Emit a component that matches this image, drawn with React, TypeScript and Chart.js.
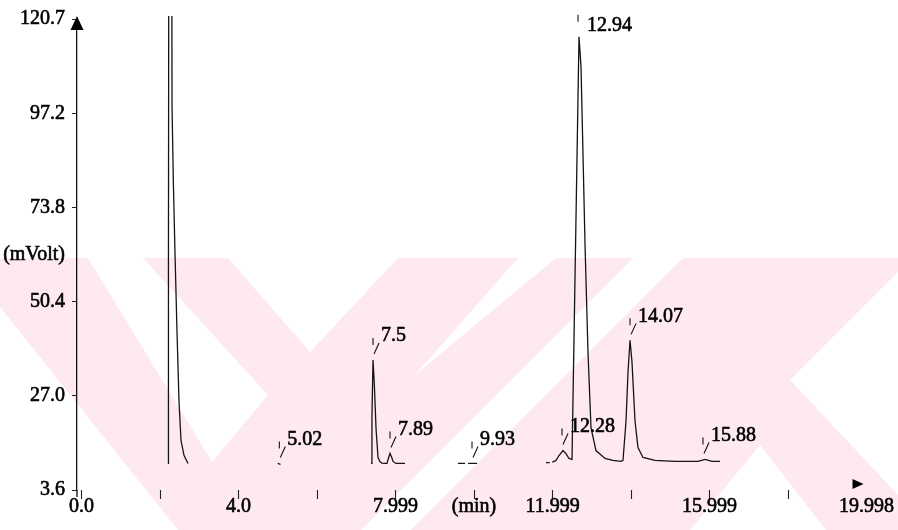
import React, { useEffect, useRef } from "react";
import { Chart, registerables } from "chart.js";

Chart.register(...registerables);

// Retention time (min) of each trace point; a null value breaks the trace
const traceTimes: number[] = [
  2.204, 2.215, 2.235, 2.26, 2.285, 2.306, 2.34, 2.382, 2.43, 2.484, 2.535, 2.611, 2.713,
  2.8,
  5.0, 5.07,
  5.2,
  7.376, 7.4, 7.427, 7.46, 7.503, 7.554, 7.605, 7.656, 7.72, 7.783, 7.82, 7.86, 7.9, 7.936, 8.013, 8.242,
  8.4,
  9.59, 9.77,
  9.8,
  9.85, 10.08,
  10.3,
  11.834, 11.93,
  11.96,
  11.99, 12.089, 12.166, 12.268, 12.344, 12.42, 12.497, 12.675, 12.726,
  12.777, 12.828, 12.904, 12.981, 13.108, 13.338, 13.541, 13.745, 13.796, 13.873, 13.924, 13.975,
  14.025, 14.102, 14.178, 14.306, 14.611, 15.121, 15.707, 15.885, 16.064, 16.268,
];
// Detector signal (mVolt)
const traceValues: (number | null)[] = [
  10.2, 60, 250, 600, 250, 99.1, 80, 62.4, 44, 25.6, 15.9, 12.2, 10.2,
  null,
  10.2, 10.0,
  null,
  10.2, 22, 35.9, 30, 19.0, 11.7, 10.6, 10.3, 10.2, 10.2, 11.5, 12.7, 11.8, 10.7, 10.2, 10.2,
  null,
  10.2, 10.2,
  null,
  10.2, 10.2,
  null,
  10.4, 10.4,
  null,
  10.5, 10.95, 12.17, 13.4, 12.66, 11.44, 11.19, 116.29, 108.94,
  86.89, 64.84, 37.9, 19.03, 13.4, 11.44, 10.95, 10.7, 10.95, 20.75, 33.0, 40.84,
  35.45, 20.75, 14.13, 11.68, 10.95, 10.7, 10.7, 11.19, 10.7, 10.7,
];

const yTickValues = [3.6, 27.0, 50.4, 62.1, 73.8, 97.2, 120.7];
const yTickLabels = ["3.6", "27.0", "50.4", "(mVolt)", "73.8", "97.2", "120.7"];
const xTickValues = [0, 2, 4, 6, 8, 10, 12, 14, 16, 18, 20];
const xTickLabels = ["0.0", "", "4.0", "", "7.999", "(min)", "11.999", "", "15.999", "", "19.998"];

const peakLabels = ["5.02", "7.5", "7.89", "9.93", "12.28", "12.94", "14.07", "15.88"];
const peakMarkTimes = [5.04, 7.427, 7.86, 9.949, 12.242, 12.65, 13.975, 15.834];
const peakMarkValues = [10.2, 35.9, 12.7, 10.2, 13.4, 116.3, 40.8, 11.2];

const Y_MIN = 3.6;
const Y_MAX = 120.7;
const X_MIN = -0.115;
const X_MAX = 20;

const FONT = '"Liberation Serif", "Times New Roman", serif';

// Faint pink scan watermark (decoration, canvas pixels): tinted band and its white gaps
const WM_TOP = 258;
const WM_COLOR = "#fde9ee";
const wmGaps: number[][][] = [
  [[0, 307], [178, 530], [0, 530]],
  [[88, 258], [143, 258], [268, 395], [212, 462]],
  [[228, 258], [398, 258], [310, 352]],
  [[518, 258], [556, 258], [415, 375]],
  [[633, 258], [683, 258], [411, 530], [361, 530]],
  [[790, 380], [898, 272], [898, 495]],
  [[760, 445], [826, 530], [690, 530]],
];

export default function App() {
  const ref = useRef<HTMLCanvasElement>(null);

  useEffect(() => {
    const canvas = ref.current;
    if (!canvas) return;
    const points = traceTimes.map((t, i) => ({ x: t, y: traceValues[i] }));

    const watermark = {
      id: "watermark",
      beforeDraw(chart: any) {
        const { ctx, width, height } = chart;
        ctx.save();
        ctx.fillStyle = WM_COLOR;
        ctx.fillRect(0, WM_TOP, width, height - WM_TOP);
        ctx.fillStyle = "#ffffff";
        wmGaps.forEach((poly) => {
          ctx.beginPath();
          poly.forEach(([px, py], i) => (i === 0 ? ctx.moveTo(px, py) : ctx.lineTo(px, py)));
          ctx.closePath();
          ctx.fill();
        });
        ctx.restore();
      },
    };

    const annot = {
      id: "annot",
      afterDraw(chart: any) {
        const { ctx, chartArea } = chart;
        const xs = chart.scales.x;
        const ys = chart.scales.y;
        ctx.save();
        // y-axis arrow head and extension
        const ax = chartArea.left;
        ctx.fillStyle = "#000";
        ctx.beginPath();
        ctx.moveTo(ax, chartArea.top - 3);
        ctx.lineTo(ax - 6.5, chartArea.top + 11);
        ctx.lineTo(ax + 6.5, chartArea.top + 11);
        ctx.closePath();
        ctx.fill();
        ctx.strokeStyle = "#111";
        ctx.lineWidth = 1.3;
        ctx.beginPath();
        ctx.moveTo(ax, chartArea.bottom);
        ctx.lineTo(ax, chartArea.bottom + 7);
        ctx.stroke();
        // x-axis arrow head at the end of the time axis
        const ex = xs.getPixelForValue(X_MAX) - 3;
        const ey = chartArea.bottom - 6;
        ctx.beginPath();
        ctx.moveTo(ex, ey);
        ctx.lineTo(ex - 11, ey - 5);
        ctx.lineTo(ex - 11, ey + 5);
        ctx.closePath();
        ctx.fill();
        // peak annotations
        ctx.font = `20px ${FONT}`;
        ctx.textBaseline = "middle";
        ctx.textAlign = "left";
        ctx.lineWidth = 1.1;
        ctx.strokeStyle = "#111";
        peakLabels.forEach((lab, i) => {
          const px = xs.getPixelForValue(peakMarkTimes[i]);
          const py = ys.getPixelForValue(peakMarkValues[i]);
          const minTy = chartArea.top + 7;
          const clamped = py - 24 < minTy;
          const ty = clamped ? minTy : py - 24;
          ctx.beginPath();
          ctx.moveTo(px, py - 22);
          ctx.lineTo(px, py - 15);
          if (!clamped) {
            ctx.moveTo(px + 1, py - 6);
            ctx.lineTo(px + 6, py - 17);
          }
          ctx.stroke();
          const tx = px + (clamped ? 9 : 8);
          ctx.lineWidth = 0.6;
          ctx.strokeStyle = "#000";
          ctx.strokeText(lab, tx, ty);
          ctx.fillText(lab, tx, ty);
          ctx.lineWidth = 1.1;
          ctx.strokeStyle = "#111";
        });
        ctx.restore();
      },
    };

    const chart = new Chart(canvas, {
      type: "line",
      data: {
        datasets: [
          {
            data: points as any,
            borderColor: "#141414",
            borderWidth: 1.3,
            pointRadius: 0,
            tension: 0,
            spanGaps: false,
            clip: { left: 0, top: 3, right: 0, bottom: 0 } as any,
          },
        ],
      },
      options: {
        animation: false,
        responsive: false,
        maintainAspectRatio: false,
        layout: { padding: { top: 12, right: 31.5, bottom: 0, left: 0 } },
        plugins: { legend: { display: false }, tooltip: { enabled: false } },
        scales: {
          x: {
            type: "linear",
            min: X_MIN,
            max: X_MAX,
            afterBuildTicks: (s: any) => {
              s.ticks = xTickValues.map((v) => ({ value: v }));
            },
            afterFit: (s: any) => {
              s.height = 40;
            },
            grid: {
              drawOnChartArea: false,
              drawTicks: true,
              tickLength: 9,
              tickWidth: 1.1,
              tickColor: (c: any) =>
                c.tick && c.tick.value === X_MAX ? "rgba(0,0,0,0)" : "#222",
            },
            border: { display: false },
            ticks: {
              autoSkip: false,
              maxRotation: 0,
              padding: -4,
              color: "#000",
              textStrokeColor: "#000",
              textStrokeWidth: 0.6,
              font: { family: FONT, size: 20 },
              callback: (_v: any, i: number) => xTickLabels[i] ?? "",
            },
          },
          y: {
            type: "linear",
            min: Y_MIN,
            max: Y_MAX,
            afterBuildTicks: (s: any) => {
              s.ticks = yTickValues.map((v) => ({ value: v }));
            },
            afterFit: (s: any) => {
              s.width = 77;
            },
            grid: {
              drawOnChartArea: false,
              drawTicks: true,
              tickLength: 5,
              tickWidth: 1,
              tickColor: (c: any) =>
                c.tick && yTickLabels[yTickValues.indexOf(c.tick.value)] === "(mVolt)"
                  ? "rgba(0,0,0,0)"
                  : "#222",
            },
            border: { display: true, color: "#111", width: 1.3 },
            ticks: {
              autoSkip: false,
              padding: 7,
              color: "#000",
              textStrokeColor: "#000",
              textStrokeWidth: 0.6,
              font: { family: FONT, size: 20 },
              callback: (_v: any, i: number) => yTickLabels[i] ?? "",
            },
          },
        },
      },
      plugins: [watermark, annot],
    });
    return () => chart.destroy();
  }, []);

  return (
    <div style={{ position: "absolute", left: 0, top: 0, width: 898, height: 530, background: "#fff" }}>
      <canvas ref={ref} width={898} height={530} style={{ display: "block" }} />
    </div>
  );
}
